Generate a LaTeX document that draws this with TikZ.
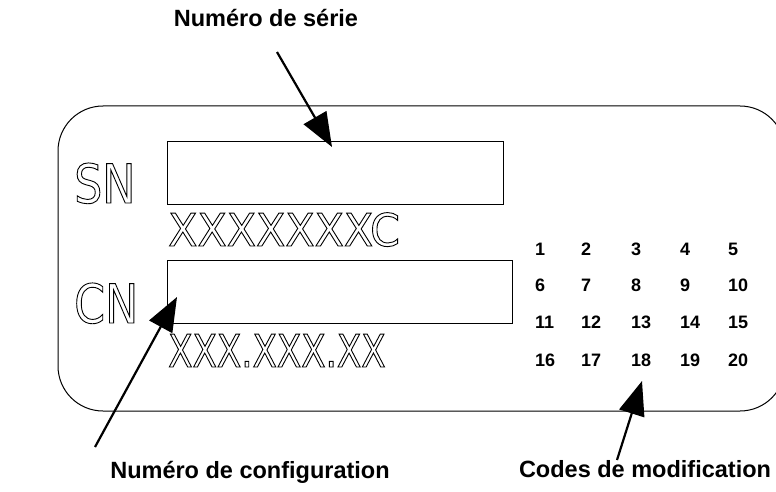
\documentclass[tikz,border=0pt]{standalone}
\usepackage{fontspec}
\usetikzlibrary{arrows.meta}
\setmainfont{Liberation Sans}
% condensed faces for the hollow plate lettering
\newfontfamily\plateA[FakeStretch=0.82]{DejaVu Sans}
\newfontfamily\plateB[FakeStretch=0.95]{DejaVu Sans}
\newfontfamily\plateC[FakeStretch=0.79]{DejaVu Sans}
% stroke-only text rendering for outlined letters
\newcommand\hollow[1]{\special{pdf:literal direct 1 Tr 0.9 w}#1\special{pdf:literal direct 0 Tr}}
\tikzset{
  callout/.style={font=\bfseries\fontsize{23.5}{26}\selectfont, inner sep=0pt, anchor=base},
  fieldbox/.style={draw, line width=1pt, inner sep=0pt, anchor=north west},
  platetext/.style={inner sep=0pt, anchor=base west},
  code/.style={font=\bfseries\fontsize{18}{20}\selectfont, inner sep=0pt, anchor=base west},
  pointer/.style={line width=2.2pt, -{Triangle[length=34pt,width=26pt]}},
}
\begin{document}
\begin{tikzpicture}[x=1pt,y=-1pt]
\useasboundingbox (0,0) rectangle (776,492);
\clip (0,0) rectangle (776,492);
\fill[white] (0,0) rectangle (776,492);

% label plate
\draw[line width=1pt, rounded corners=45pt] (58,106) rectangle (785,411);

% entry fields
\node[fieldbox, minimum width=336pt, minimum height=63pt] (snbox) at (167,141) {};
\node[fieldbox, minimum width=345pt, minimum height=63pt] (cnbox) at (167,260) {};

% outlined lettering
\node[platetext, font=\plateA\fontsize{54}{54}\selectfont] (sn) at (74,203) {\hollow{SN}};
\node[platetext, font=\plateA\fontsize{54}{54}\selectfont] (cn) at (74,323) {\hollow{CN}};
\node[platetext, font=\plateB\fontsize{45}{45}\selectfont] (snval) at (168,246) {\hollow{XXXXXXXC}};
\node[platetext, font=\plateC\fontsize{45}{45}\selectfont] (cnval) at (168,367) {\hollow{XXX.XXX.XX}};

% modification code grid
\foreach \r/\yb in {0/255.5,1/291.5,2/328,3/366}{
  \foreach \c/\xb in {1/535,2/581,3/631,4/680,5/728}{
    \pgfmathtruncatemacro\num{\r*5+\c}
    \node[code] (m\num) at (\xb,\yb) {\num};
  }
}

% callout labels
\node[callout] (serie) at (266,27) {Numéro de série};
\node[callout] (config) at (250,478) {Numéro de configuration};
\node[callout] (codes) at (645,477) {Codes de modification};

% pointer ends
\coordinate (serieTail) at (277,52);
\coordinate (serieTip) at (332,147);
\coordinate (configTail) at (95,447);
\coordinate (configTip) at (177,297);
\coordinate (codesTail) at (617,460);
\coordinate (codesTip) at (642,381);

\draw[pointer] (serieTail) -- (serieTip);
\draw[pointer] (configTail) -- (configTip);
\draw[pointer] (codesTail) -- (codesTip);
\end{tikzpicture}
\end{document}
